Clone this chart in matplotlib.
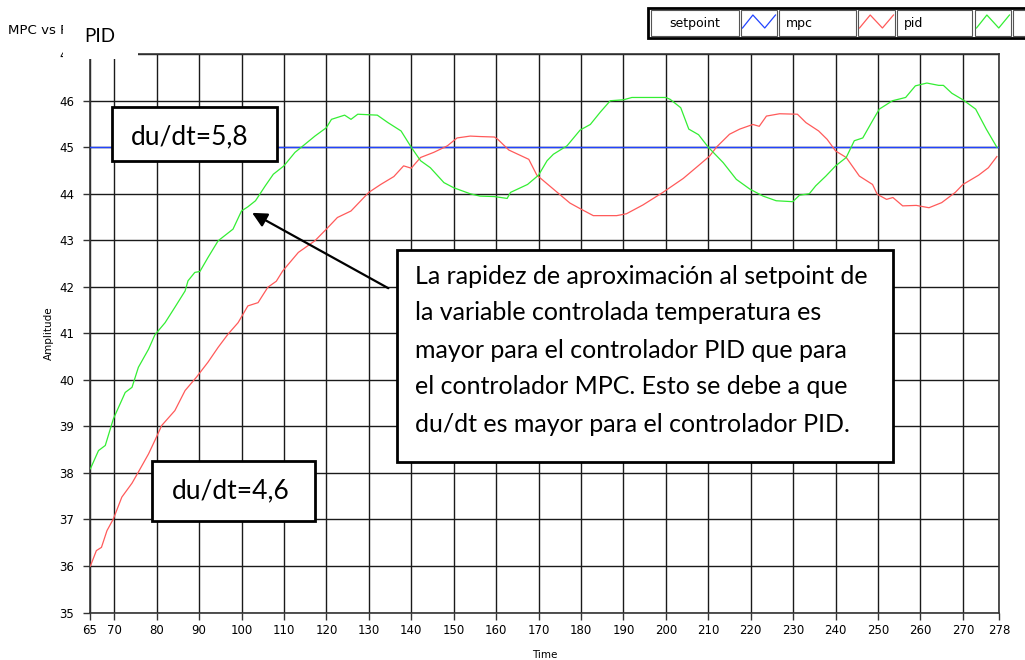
import matplotlib
matplotlib.use("Agg")
import matplotlib.pyplot as plt
from matplotlib.patches import Rectangle
from matplotlib.lines import Line2D

# time axis limits and tick labels
t_start, t_end = 64.3, 278.5
x_ticks = [t_start, 70, 80, 90, 100, 110, 120, 130, 140, 150, 160, 170, 180,
           190, 200, 210, 220, 230, 240, 250, 260, 270, t_end]
x_labels = ["65", "70", "80", "90", "100", "110", "120", "130", "140", "150",
            "160", "170", "180", "190", "200", "210", "220", "230", "240",
            "250", "260", "270", "278"]
y_ticks = list(range(35, 48))

setpoint = [45.0, 45.0]

# mpc response (red)
mpc_t = [64.4, 65.8, 67, 68.3, 69.8, 71.8, 74.2, 75.7, 78.1, 79.6, 81.2, 84.3,
         86.7, 89.4, 92.1, 94.5, 96.8, 99.2, 101.5, 103.9, 106.2, 108.2, 109.7,
         113.4, 117.3, 120, 122.6, 125.8, 130, 132.8, 135.9, 138.2, 140, 142.2,
         145.3, 148.5, 150.8, 153.9, 156.2, 159.6, 160.4, 163, 167.7, 169.6,
         173.5, 177.4, 180, 182.9, 188.4, 190.7, 194.6, 199.3, 204.1, 208,
         210.3, 211.9, 215, 217.4, 220.5, 222, 223.7, 226.8, 231, 233, 236,
         238, 240, 242.5, 245.6, 248.7, 249.8, 252, 253.5, 255.8, 259, 262,
         265, 268.2, 270, 273.7, 276, 278]
mpc_y = [36.0, 36.33, 36.4, 36.76, 37.01, 37.48, 37.78, 38.02, 38.41, 38.7,
         39.02, 39.34, 39.77, 40.06, 40.38, 40.7, 40.98, 41.23, 41.59, 41.66,
         41.99, 42.12, 42.34, 42.74, 42.99, 43.24, 43.49, 43.63, 44.03, 44.2,
         44.37, 44.6, 44.55, 44.78, 44.89, 45.03, 45.2, 45.24, 45.23, 45.22,
         45.17, 44.94, 44.74, 44.4, 44.1, 43.8, 43.67, 43.53, 43.53, 43.57,
         43.76, 44.03, 44.33, 44.63, 44.81, 45.0, 45.28, 45.39, 45.49, 45.45,
         45.67, 45.72, 45.71, 45.53, 45.35, 45.17, 44.92, 44.78, 44.38, 44.2,
         43.99, 43.88, 43.92, 43.74, 43.75, 43.7, 43.81, 44.03, 44.2, 44.4,
         44.56, 44.8]

# pid response (green)
pid_t = [64.4, 66.3, 67.9, 69.8, 72.6, 74.2, 75.7, 78.1, 79.6, 82, 84.3, 86.7,
         87.4, 89, 90.2, 92.1, 94.5, 98, 100, 101.5, 103.3, 105.6, 107.5, 110,
         112.6, 114.5, 117.3, 120, 121.2, 124.3, 125.8, 127.4, 132, 134.5,
         137.6, 140, 142.2, 144.5, 147.7, 150, 153.9, 156.2, 159.6, 162.6,
         163.4, 167.4, 170, 172, 173.5, 176.7, 179.8, 182.2, 184.5, 186.9, 190,
         192, 196, 200, 201, 203.5, 205.4, 207.7, 210, 213.5, 216.6, 219.8,
         222.9, 226, 229.9, 231.5, 233.8, 235.3, 237.7, 240, 242.5, 244.4,
         246.4, 248.7, 250.3, 253.4, 256.5, 258.8, 261.5, 264.3, 265.4, 267.4,
         270, 273, 275.5, 278]
pid_y = [38.09, 38.48, 38.59, 39.16, 39.73, 39.84, 40.27, 40.66, 40.97, 41.23,
         41.56, 41.91, 42.13, 42.31, 42.33, 42.63, 42.99, 43.24, 43.63, 43.72,
         43.85, 44.17, 44.42, 44.6, 44.89, 45.03, 45.24, 45.42, 45.6, 45.69,
         45.6, 45.71, 45.69, 45.53, 45.35, 45.0, 44.71, 44.56, 44.24, 44.13,
         44.0, 43.95, 43.94, 43.9, 44.03, 44.2, 44.4, 44.71, 44.85, 45.03,
         45.37, 45.49, 45.75, 46.0, 46.02, 46.07, 46.07, 46.07, 46.03, 45.85,
         45.39, 45.27, 45.0, 44.67, 44.31, 44.1, 43.95, 43.85, 43.83, 43.97,
         44.0, 44.17, 44.38, 44.6, 44.78, 45.14, 45.2, 45.57, 45.82, 46.0,
         46.07, 46.32, 46.38, 46.33, 46.33, 46.16, 46.02, 45.82, 45.39, 45.0]

legend_names = ["setpoint", "mpc", "pid"]
legend_colors = ["#2244ff", "#ff5a5a", "#33ee33"]

note_lines = [
    "La rapidez de aproximación al setpoint de",
    "la variable controlada temperatura es",
    "mayor para el controlador PID que para",
    "el controlador MPC. Esto se debe a que",
    "du/dt es mayor para el controlador PID.",
]

W, H = 1025, 660
NOTE_FONT = ["Lato", "DejaVu Sans"]


def fx(x):
    return x / W


def fy(y):
    return 1 - y / H


def pixel_box(fig, x0, y0, x1, y1, lw=2.0, edge="black", zorder=5):
    """White rectangle given in pixel coordinates (origin top-left)."""
    rect = Rectangle((fx(x0), fy(y1)), fx(x1) - fx(x0), fy(y0) - fy(y1),
                     transform=fig.transFigure, facecolor="white",
                     edgecolor=edge, lw=lw, zorder=zorder)
    fig.add_artist(rect)


def main():
    fig = plt.figure(figsize=(W / 100, H / 100), dpi=100)
    ax = fig.add_axes([fx(90), fy(612.5), fx(999) - fx(90), fy(54.2) - fy(612.5)])

    ax.plot([t_start, t_end], setpoint, color=legend_colors[0], lw=1.0, zorder=3)
    ax.plot(mpc_t, mpc_y, color=legend_colors[1], lw=0.9, zorder=3)
    ax.plot(pid_t, pid_y, color=legend_colors[2], lw=0.9, zorder=3)

    ax.set_xlim(t_start, t_end)
    ax.set_ylim(35, 47)
    ax.set_xticks(x_ticks)
    ax.set_xticklabels(x_labels)
    ax.set_yticks(y_ticks)
    ax.grid(True, color="#1a1a1a", lw=1.0)
    ax.set_axisbelow(True)
    for s in ax.spines.values():
        s.set_color("#333333")
        s.set_linewidth(1.2)
    ax.tick_params(direction="out", length=5, width=1, color="#333333",
                   labelsize=8.5)
    ax.tick_params(axis="x", pad=3)
    ax.tick_params(axis="y", pad=6.5)
    ax.set_xlabel("Time", fontsize=7.5, labelpad=10)
    ax.set_ylabel("Amplitude", fontsize=7.5, labelpad=4)

    # arrow from the note to the pid curve
    ax.annotate("", xy=(102.5, 43.59), xytext=(134.6, 41.97),
                arrowprops=dict(arrowstyle="-|>", color="black", lw=1.6,
                                mutation_scale=22, shrinkA=0, shrinkB=0),
                zorder=4)

    # title, partly covered by a bigger label
    fig.text(fx(8), fy(31), "MPC vs PID", fontsize=9.6, va="center", ha="left")
    pixel_box(fig, 62.5, 10, 138, 59, lw=0, edge="white")
    fig.text(fx(84), fy(36), "PID", fontsize=13.5, family=NOTE_FONT,
             va="center", ha="left", zorder=6)

    # legend
    pixel_box(fig, 648, 8, 1030, 38, lw=2.0)
    cells = [(651, 739), (741, 777), (779, 856), (858, 895), (897, 972),
             (975, 1011), (1013, 1030)]
    for c0, c1 in cells:
        pixel_box(fig, c0, 10.5, c1, 35.5, lw=0.8, edge="#555555", zorder=6)
    text_cells = [cells[0], cells[2], cells[4]]
    icon_cells = [cells[1], cells[3], cells[5]]
    for i, name in enumerate(legend_names):
        c0, c1 = text_cells[i]
        if i == 0:
            fig.text(fx((c0 + c1) / 2), fy(23), name, fontsize=9,
                     ha="center", va="center", zorder=7)
        else:
            fig.text(fx(c0 + 7), fy(23), name, fontsize=9,
                     ha="left", va="center", zorder=7)
        i0, i1 = icon_cells[i]
        w = i1 - i0
        xs = [i0 + 1.5, i0 + w * 0.33, i0 + w * 0.66, i1 - 1.5]
        ys = [28, 15, 28, 15]
        fig.add_artist(Line2D([fx(v) for v in xs], [fy(v) for v in ys],
                              transform=fig.transFigure,
                              color=legend_colors[i], lw=0.9, zorder=7))

    # slope notes
    pixel_box(fig, 112, 107, 277, 161)
    fig.text(fx(190), fy(137), "du/dt=5,8", fontsize=19, family=NOTE_FONT,
             ha="center", va="center", zorder=6)
    pixel_box(fig, 152, 461, 315, 521)
    fig.text(fx(231), fy(491), "du/dt=4,6", fontsize=19, family=NOTE_FONT,
             ha="center", va="center", zorder=6)

    # explanation box
    pixel_box(fig, 397, 250, 893, 462)
    for i, line in enumerate(note_lines):
        fig.text(fx(415), fy(276 + i * 37), line, fontsize=18,
                 family=NOTE_FONT, ha="left", va="center", zorder=6)

    fig.savefig("out.png", dpi=100)


if __name__ == "__main__":
    main()
